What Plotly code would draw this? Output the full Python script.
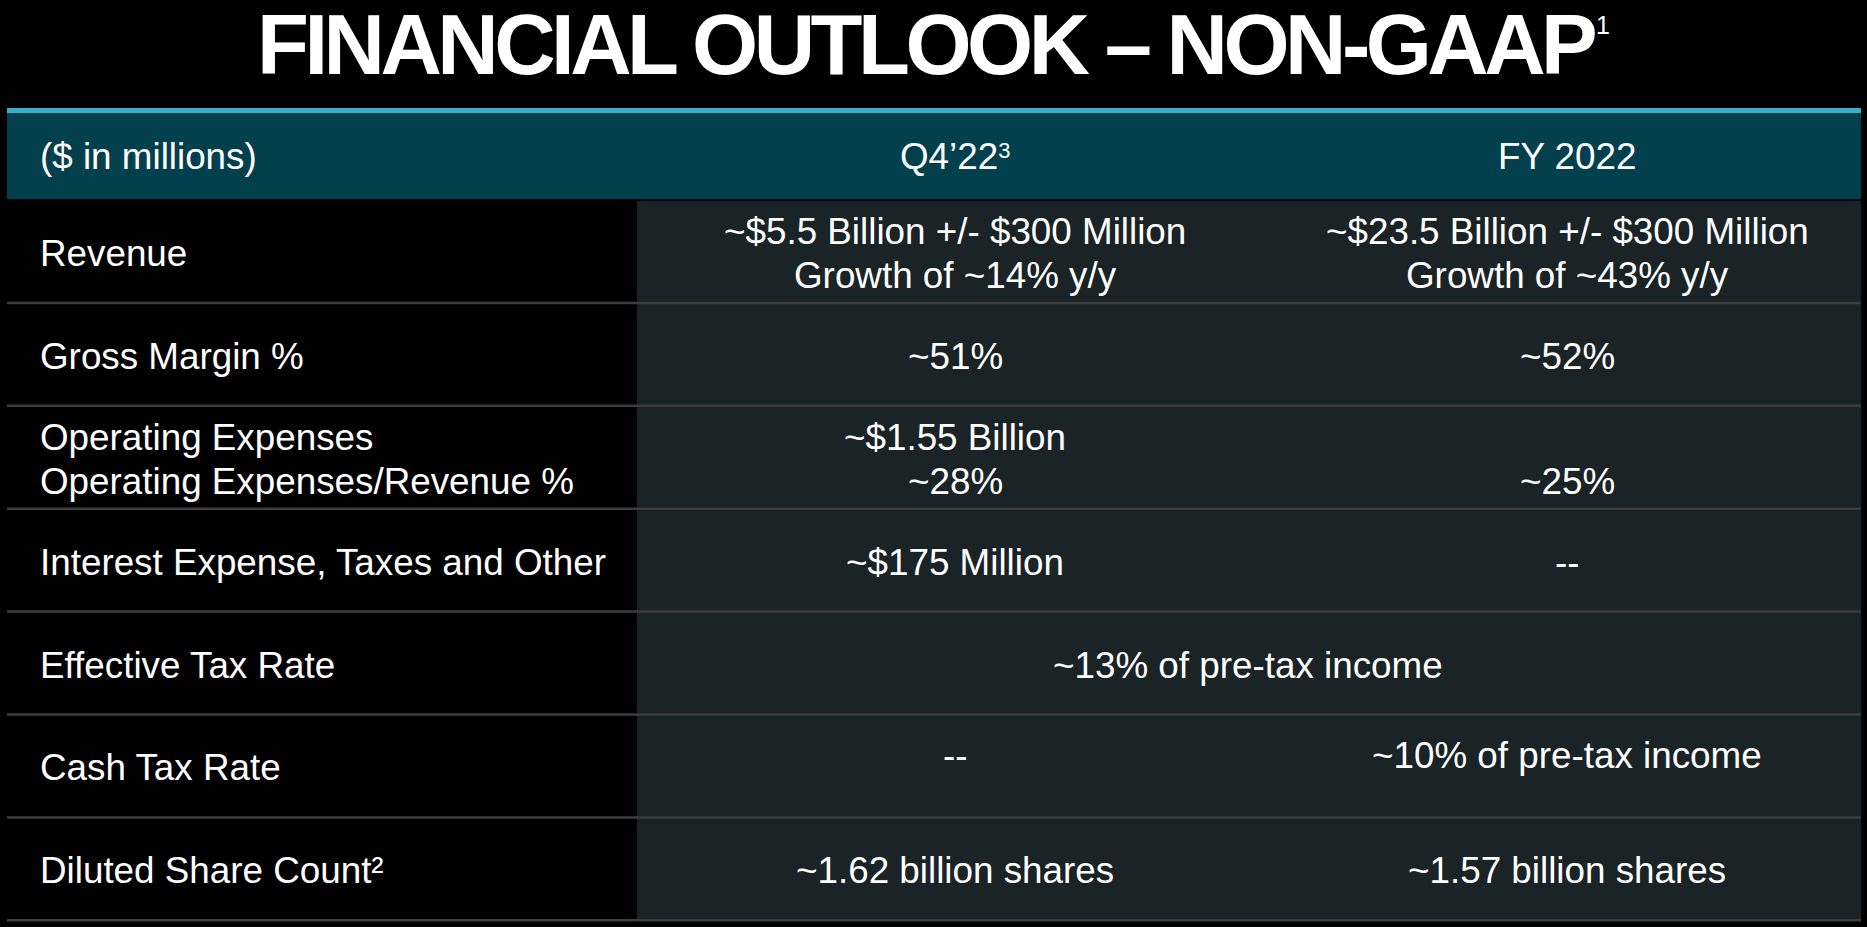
import plotly.graph_objects as go

# ---------------- data ----------------
title_text = "FINANCIAL OUTLOOK – NON-GAAP"
title_note = "1"
header_labels = ["($ in millions)", "Q4’22", "FY 2022"]
header_note = "3"
row_labels = [
    "Revenue",
    "Gross Margin %",
    "Operating Expenses<br>Operating Expenses/Revenue %",
    "Interest Expense, Taxes and Other",
    "Effective Tax Rate",
    "Cash Tax Rate",
    "Diluted Share Count²",
]
q4_values = [
    "~$5.5 Billion +/- $300 Million<br>Growth of ~14% y/y",
    "~51%",
    "~$1.55 Billion<br>~28%",
    "~$175 Million",
    None,
    "--",
    "~1.62 billion shares",
]
fy_values = [
    "~$23.5 Billion +/- $300 Million<br>Growth of ~43% y/y",
    "~52%",
    "~25%",
    "--",
    None,
    "~10% of pre-tax income",
    "~1.57 billion shares",
]
spanning_values = {4: "~13% of pre-tax income"}

# ---------------- geometry / style ----------------
W, H = 1867, 927
X_LEFT, X_SPLIT, X_RIGHT = 7, 637, 1861
LABEL_X = 40
COL_CENTERS = [955, 1567]
SPAN_CENTER = 1248
CYAN_TOP, HEADER_TOP, HEADER_BOTTOM = 108, 113, 200
ROW_H = 102.9
LINE_GAP = 44
FONT = "Liberation Sans, Arial, sans-serif"
FS = 36.8
CYAN = "#38AFC2"
HEADER_BG = "#02404E"
BODY_BG = "#1A2326"
SEP = "#3E3E3E"

fig = go.Figure()

shapes = []
shapes.append(dict(type="rect", xref="x", yref="y", x0=X_LEFT, x1=X_RIGHT, y0=CYAN_TOP, y1=HEADER_TOP,
                   fillcolor=CYAN, line=dict(width=0), layer="below"))
shapes.append(dict(type="rect", xref="x", yref="y", x0=X_LEFT, x1=X_RIGHT, y0=HEADER_TOP, y1=HEADER_BOTTOM - 1,
                   fillcolor=HEADER_BG, line=dict(width=0), layer="below"))
n = len(row_labels)
body_bottom = HEADER_BOTTOM + n * ROW_H
shapes.append(dict(type="rect", xref="x", yref="y", x0=X_SPLIT, x1=X_RIGHT, y0=HEADER_BOTTOM + 1, y1=body_bottom,
                   fillcolor=BODY_BG, line=dict(width=0), layer="below"))
for i in range(n):
    yb = HEADER_BOTTOM + (i + 1) * ROW_H
    shapes.append(dict(type="line", xref="x", yref="y", x0=X_LEFT, x1=X_RIGHT, y0=yb, y1=yb,
                       line=dict(color=SEP, width=2.5)))

ann = []
def add(text, x, y, xanchor="center", size=FS, yshift=0, weight="normal"):
    ann.append(dict(text=text, x=x, y=y, xref="x", yref="y", xanchor=xanchor, yanchor="middle",
                    showarrow=False, yshift=yshift, borderpad=0, borderwidth=0,
                    font=dict(family=FONT, size=size, color="white", weight=weight)))

def add_lines(text, x, yc, xanchor="center", yshift=0, slots=None):
    lines = text.split("<br>")
    m = slots if slots else len(lines)
    offset = m - len(lines)
    for k, line in enumerate(lines):
        y = yc + (k + offset - (m - 1) / 2) * LINE_GAP
        add(line, x, y, xanchor=xanchor, yshift=yshift)

# title
add('<span style="letter-spacing:-4.5px">' + title_text + "</span>", 926, 44, size=85, weight="bold")
add(title_note, 1603, 25, size=25)

# header
hy = (HEADER_TOP + HEADER_BOTTOM) / 2
add(header_labels[0], LABEL_X, hy, xanchor="left")
add(header_labels[1] + '<span style="font-size:22px;baseline-shift:11px">' + header_note + "</span>",
    COL_CENTERS[0], hy)
add(header_labels[2], COL_CENTERS[1], hy)

# rows
for i in range(n):
    yc = HEADER_BOTTOM + (i + 0.5) * ROW_H + 2
    add_lines(row_labels[i], LABEL_X, yc, xanchor="left")
    shift = 12 if i == 5 else 0
    if i in spanning_values:
        add(spanning_values[i], SPAN_CENTER, yc)
        continue
    q_lines = q4_values[i].count("<br>") + 1
    add_lines(q4_values[i], COL_CENTERS[0], yc, yshift=shift)
    add_lines(fy_values[i], COL_CENTERS[1], yc, yshift=shift,
              slots=max(q_lines, fy_values[i].count("<br>") + 1))

fig.update_layout(
    width=W, height=H, margin=dict(l=0, r=0, t=0, b=0),
    paper_bgcolor="black", plot_bgcolor="black",
    xaxis=dict(range=[0, W], visible=False, fixedrange=True),
    yaxis=dict(range=[H, 0], visible=False, fixedrange=True),
    shapes=shapes, annotations=ann, showlegend=False,
)

fig.write_html("out.html", config={"displayModeBar": False},
               post_script="document.body.style.margin='0';document.body.style.overflow='hidden';")
